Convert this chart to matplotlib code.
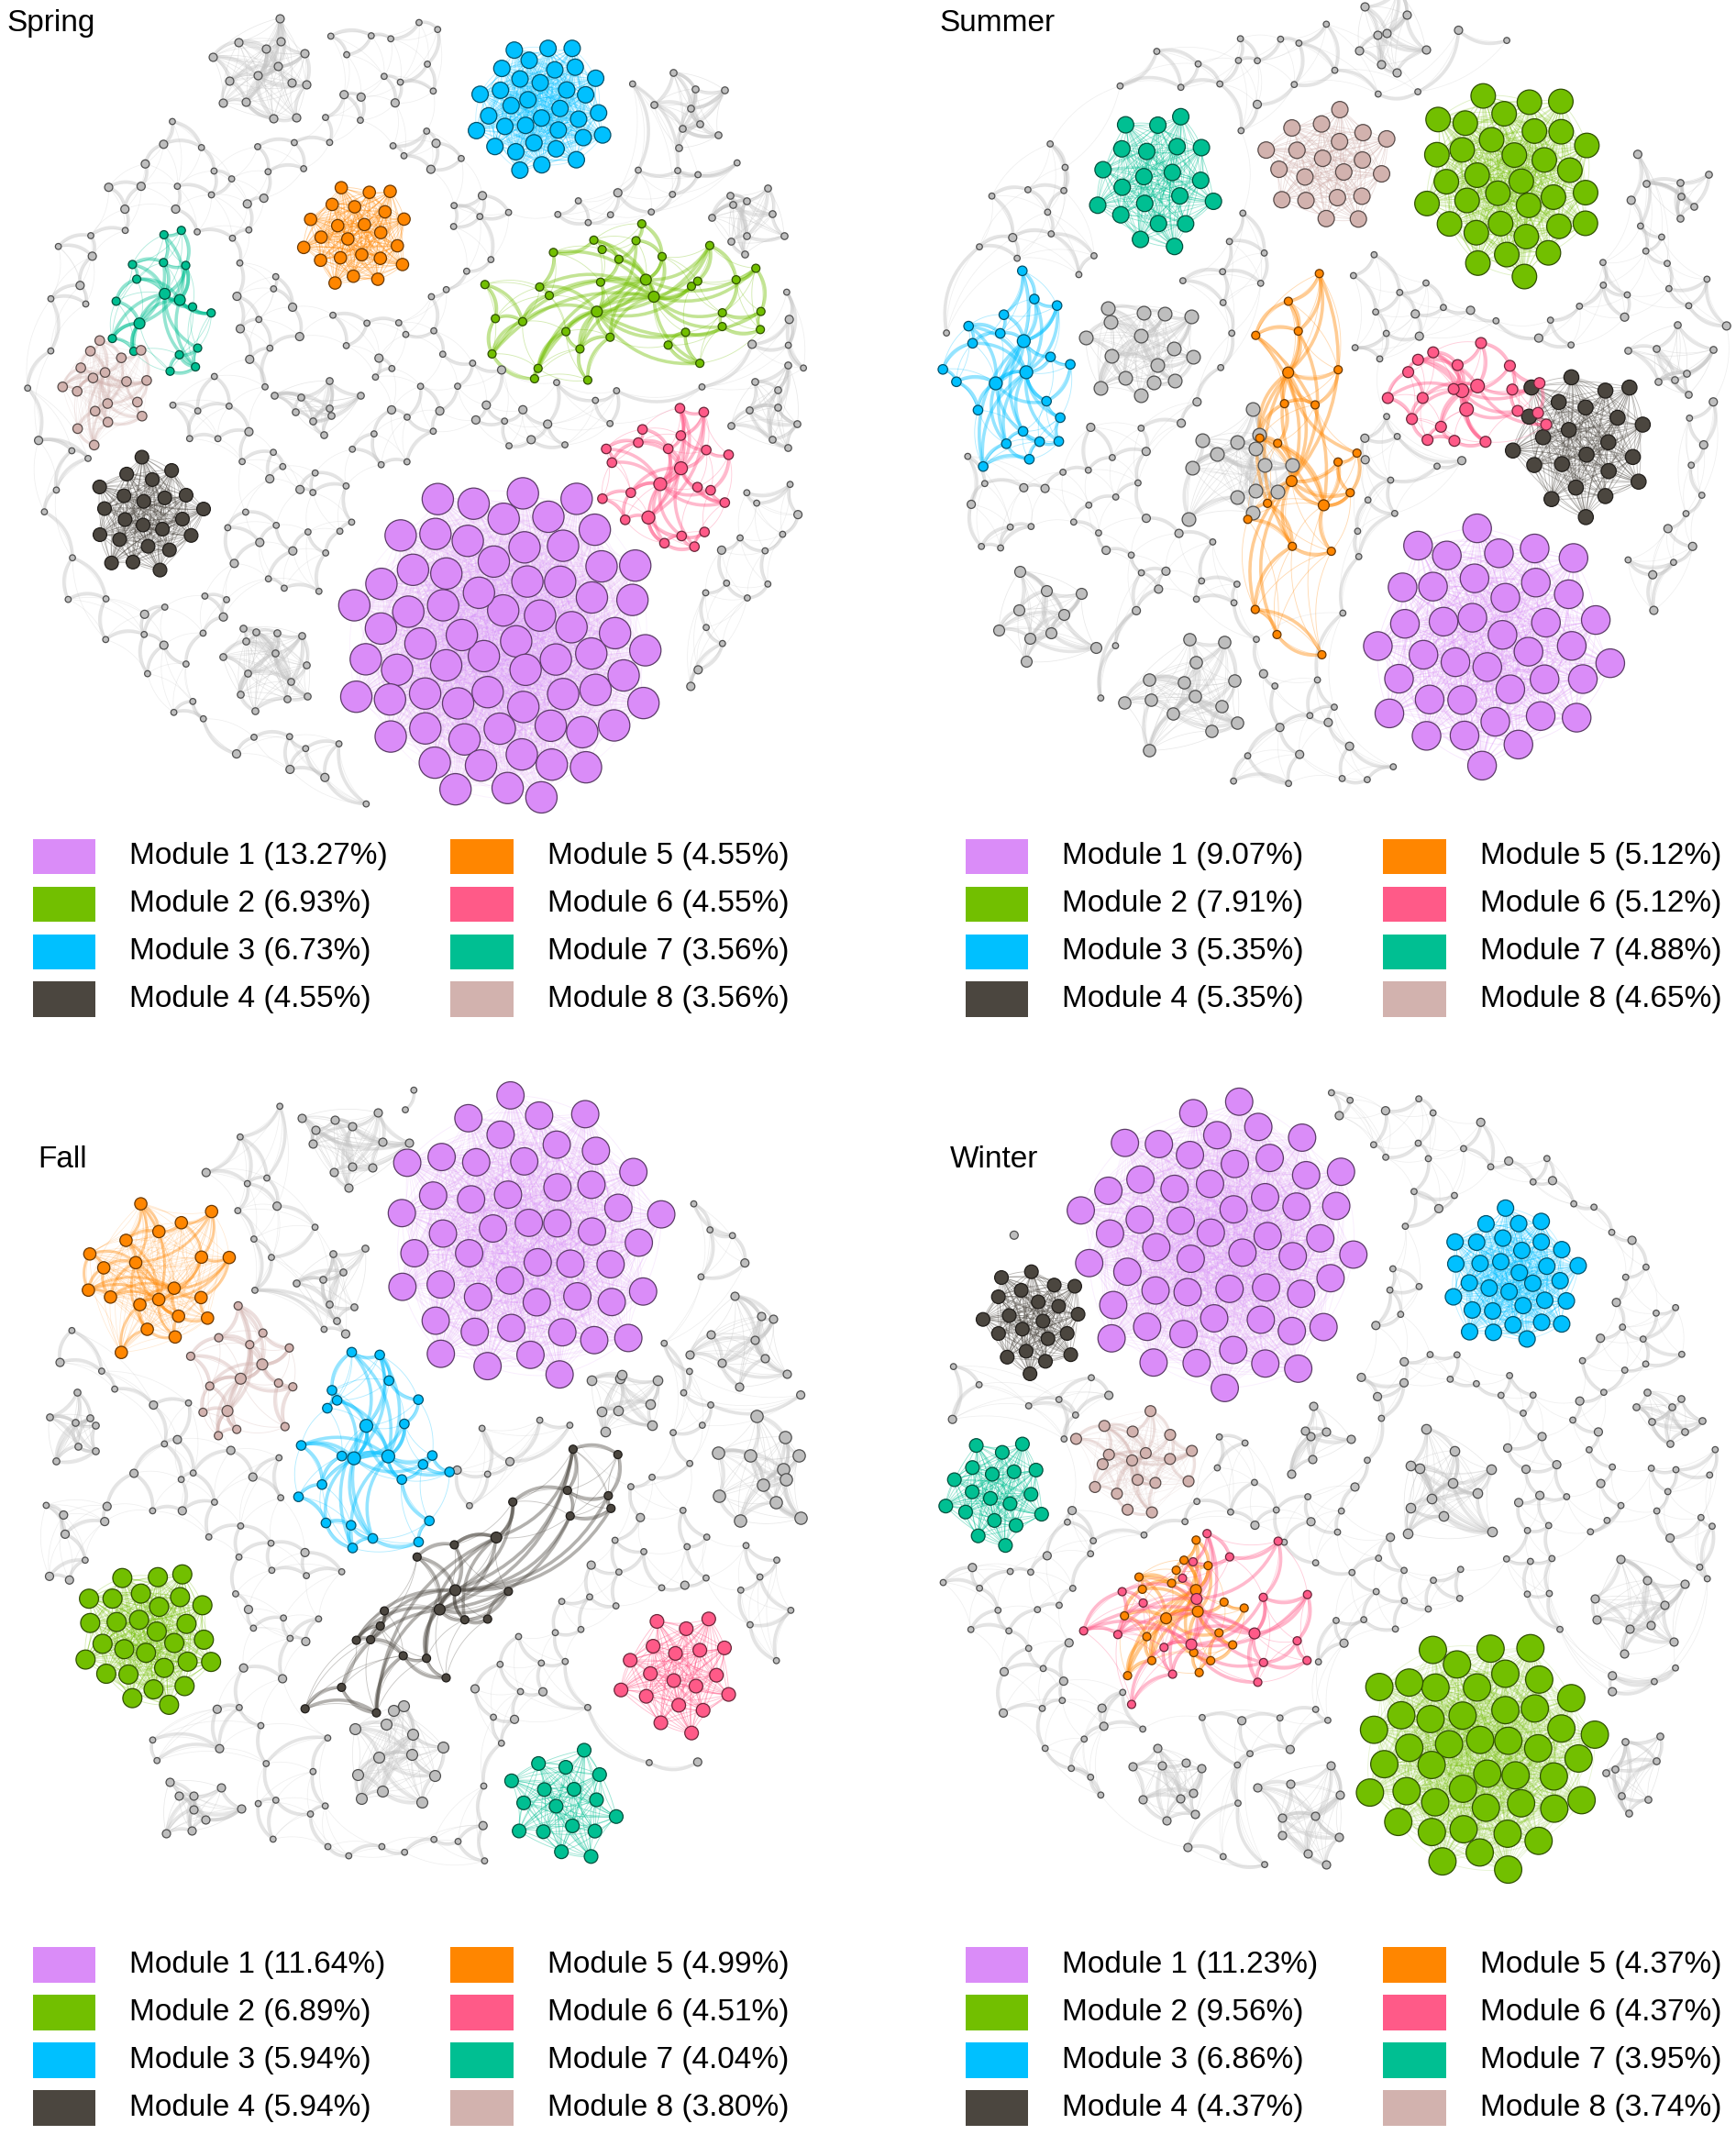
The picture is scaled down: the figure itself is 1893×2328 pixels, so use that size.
#seasonal co-occurrence networks, eight modules per season, rest of nodes grey
import numpy as np
import matplotlib
matplotlib.use("Agg")
import matplotlib.pyplot as plt
from matplotlib.collections import LineCollection
from matplotlib.patches import Rectangle
from matplotlib.colors import to_rgb

plt.rcParams['font.family'] = ['Liberation Sans', 'DejaVu Sans']

#data: node totals and module sizes (percent in legend = size / total)
seasons = ['Spring', 'Summer', 'Fall', 'Winter']
total_nodes = [505, 430, 421, 481]
module_labels = ['Module 1', 'Module 2', 'Module 3', 'Module 4',
                 'Module 5', 'Module 6', 'Module 7', 'Module 8']
spring_sizes = [67, 35, 34, 23, 23, 23, 18, 18]
summer_sizes = [39, 34, 23, 23, 22, 22, 21, 20]
fall_sizes = [49, 29, 25, 25, 21, 19, 17, 16]
winter_sizes = [54, 46, 33, 21, 21, 21, 19, 18]
module_sizes = [spring_sizes, summer_sizes, fall_sizes, winter_sizes]
module_colors = ['#DA8CF8', '#72BF00', '#00C0FF', '#4B463F',
                 '#FF8600', '#FF5A88', '#00BF92', '#D2B2AE']

#layout (canvas units, 1275 x 1568): cx, cy, rx, ry, angle, node radius, style
spring_layout = [(369, 471, 117, 120, 0, 11.5, 'dense'),
                 (457, 222, 118, 58, -8, 3, 'loose'),
                 (397, 80, 51, 51, 0, 6, 'dense'),
                 (108, 380, 44, 44, 0, 5, 'dense'),
                 (262, 174, 42, 42, 0, 4.5, 'dense'),
                 (492, 352, 52, 62, 0, 3.5, 'loose'),
                 (118, 225, 42, 62, 0, 3, 'loose'),
                 (78, 284, 36, 40, 0, 3.5, 'semi')]
summer_layout = [(1095, 472, 90, 94, 0, 10.5, 'dense'),
                 (1110, 133, 68, 72, 0, 9, 'dense'),
                 (748, 275, 50, 82, 0, 3.5, 'loose'),
                 (1163, 325, 56, 56, 0, 5.5, 'dense'),
                 (955, 335, 45, 150, 0, 3, 'loose'),
                 (1078, 290, 62, 42, 0, 4, 'loose'),
                 (848, 132, 49, 53, 0, 6, 'dense'),
                 (975, 123, 48, 48, 0, 6, 'dense')]
fall_layout = [(385, 910, 105, 109, 0, 10, 'dense'),
               (110, 1202, 53, 54, 0, 7, 'dense'),
               (272, 1070, 62, 82, 0, 3.5, 'loose'),
               (337, 1167, 165, 42, -39, 3, 'loose'),
               (115, 940, 58, 62, 0, 4.5, 'semi'),
               (498, 1228, 46, 46, 0, 5, 'dense'),
               (416, 1325, 44, 44, 0, 5, 'dense'),
               (180, 1010, 45, 50, 0, 3, 'loose')]
winter_layout = [(895, 915, 105, 112, 0, 10, 'dense'),
                 (1085, 1288, 88, 90, 0, 10, 'dense'),
                 (1110, 938, 52, 52, 0, 6, 'dense'),
                 (760, 970, 41, 41, 0, 5, 'dense'),
                 (870, 1185, 50, 55, 0, 3, 'loose'),
                 (885, 1190, 92, 70, 0, 3, 'loose'),
                 (731, 1095, 41, 41, 0, 5, 'dense'),
                 (833, 1075, 42, 40, 0, 4, 'semi')]
layouts = [spring_layout, summer_layout, fall_layout, winter_layout]

#small unlabeled grey modules: cx, cy, radius, n nodes, node radius
spring_grey = [(195, 55, 40, 15, 3), (198, 488, 40, 14, 2.5), (548, 160, 32, 10, 2.5),
               (232, 300, 30, 9, 2.5), (505, 80, 30, 9, 2.5), (565, 300, 30, 9, 2.5)]
summer_grey = [(840, 255, 45, 16, 5), (912, 345, 45, 14, 5), (872, 512, 48, 14, 4.5),
               (768, 452, 38, 10, 4), (1018, 25, 30, 9, 3), (1228, 268, 30, 8, 2.5),
               (1232, 140, 25, 6, 2.5)]
fall_grey = [(255, 842, 40, 12, 3), (560, 1080, 42, 12, 4.5), (548, 985, 38, 10, 3),
             (292, 1290, 42, 13, 4), (458, 1025, 32, 9, 3.5), (145, 1325, 30, 9, 3),
             (55, 1050, 30, 8, 2.5), (245, 940, 28, 8, 2.5)]
winter_grey = [(1058, 1090, 42, 12, 3.5), (1205, 1180, 40, 10, 3), (962, 1335, 38, 10, 3),
               (862, 1310, 35, 10, 3), (1222, 1040, 30, 8, 2.5), (968, 1060, 28, 7, 3),
               (1200, 1300, 30, 8, 2.5)]
grey_groups = [spring_grey, summer_grey, fall_grey, winter_grey]

#outer circle of each network, title spot, legend origin
net_circles = [(310, 302, 290), (982, 295, 288), (311, 1084, 290), (975, 1088, 292)]
title_pos = [(5, 17), (690, 17), (28, 852), (698, 852)]
legend_pos = [(24, 629), (709, 629), (24, 1443), (709, 1443)]

W, H = 1275.0, 1568.0
PT = 1893 / W * 0.72   # points per canvas unit
GREY_EDGE = '#C4C4C4'


def sunflower(n, rot=0.0):
    i = np.arange(n)
    r = np.sqrt((i + 0.5) / n)
    th = i * np.pi * (3 - np.sqrt(5)) + rot
    return r * np.cos(th), r * np.sin(th)


def r2seq(n, off):
    i = np.arange(n) + off
    return (0.5 + 0.7548776662466927 * i) % 1, (0.5 + 0.5698402909980532 * i) % 1


def place(cx, cy, rx, ry, ang, n, jit, off):
    u, v = sunflower(n, off * 0.7)
    ju, jv = r2seq(n, off * 31)
    sp = 1.0 / np.sqrt(n)
    u = u + (ju - 0.5) * jit * sp * 2
    v = v + (jv - 0.5) * jit * sp * 2
    a = np.deg2rad(ang)
    x, y = u * rx, v * ry
    return np.c_[cx + x * np.cos(a) - y * np.sin(a), cy + x * np.sin(a) + y * np.cos(a)]


def knn(p, k, maxd=1e9):
    d = np.hypot(p[:, None, 0] - p[None, :, 0], p[:, None, 1] - p[None, :, 1])
    np.fill_diagonal(d, np.inf)
    out = set()
    for i in range(len(p)):
        for j in np.argsort(d[i])[:k]:
            if d[i, j] < maxd:
                out.add((min(i, j), max(i, j)))
    return sorted(out)


def all_pairs(n):
    return [(i, j) for i in range(n) for j in range(i + 1, n)]


def hub_edges(n):
    out = []
    for h in range(min(3, n)):
        out += [(h, j) for j in range(h + 1, n, 2 + h)]
    return out


def curves(p, edges, bend=0.2, m=16):
    if not edges:
        return np.zeros((0, m, 2))
    e = np.array(edges)
    p0, p1 = p[e[:, 0]], p[e[:, 1]]
    d = p1 - p0
    c = (p0 + p1) / 2 + bend * np.c_[-d[:, 1], d[:, 0]]
    t = np.linspace(0, 1, m)[None, :, None]
    return (1 - t) ** 2 * p0[:, None] + 2 * (1 - t) * t * c[:, None] + t ** 2 * p1[:, None]


def add_edges(ax, segs, color, lw, alpha, z):
    if len(segs):
        ax.add_collection(LineCollection(segs, colors=[color], linewidths=lw * PT,
                                         alpha=alpha, zorder=z, capstyle='round'))


def add_nodes(ax, p, r, color, z):
    edge = tuple(np.array(to_rgb(color)) * 0.42)
    ax.scatter(p[:, 0], p[:, 1], s=(2 * np.asarray(r) * PT) ** 2, c=color,
               edgecolors=[edge], linewidths=0.9, zorder=z)


def inside(p, regions):
    hit = np.zeros(len(p), bool)
    for cx, cy, rx, ry, ang, mg in regions:
        a = np.deg2rad(ang)
        dx, dy = p[:, 0] - cx, p[:, 1] - cy
        u = dx * np.cos(a) + dy * np.sin(a)
        v = -dx * np.sin(a) + dy * np.cos(a)
        hit |= (u / (rx + mg)) ** 2 + (v / (ry + mg)) ** 2 < 1
    return hit


fig = plt.figure(figsize=(18.93, 23.28), dpi=100)
ax = fig.add_axes([0, 0, 1, 1])
ax.set_xlim(0, W)
ax.set_ylim(H, 0)
ax.axis('off')

for s, season in enumerate(seasons):
    sizes = module_sizes[s]
    regions = []

    #coloured modules
    for m, (cx, cy, rx, ry, ang, nr, style) in enumerate(layouts[s]):
        n = sizes[m]
        col = module_colors[m]
        radii = np.full(n, nr)
        if style == 'dense':
            p = place(cx, cy, rx, ry, ang, n, 0.1, s * 8 + m)
            add_edges(ax, curves(p, all_pairs(n), 0.12), col, 0.6, min(0.4, 8.0 / n), 2)
            regions.append((cx, cy, rx, ry, ang, nr + 10))
        elif style == 'semi':
            p = place(cx, cy, rx, ry, ang, n, 0.6, s * 8 + m)
            add_edges(ax, curves(p, all_pairs(n), 0.15), col, 0.5, 0.18, 2)
            add_edges(ax, curves(p, knn(p, 2) + hub_edges(n), 0.28), col, 2.0, 0.4, 2)
            regions.append((cx, cy, rx, ry, ang, nr + 6))
        else:
            p = place(cx, cy, rx, ry, ang, n, 0.8, s * 8 + m)
            add_edges(ax, curves(p, knn(p, 2) + hub_edges(n), 0.3), col, 2.4, 0.42, 2)
            add_edges(ax, curves(p, knn(p, 5), 0.2), col, 0.6, 0.3, 2)
            radii[:3] = nr * 1.35
            regions.append((cx, cy, rx, ry, ang, 0))
        add_nodes(ax, p, radii, col, 4)

    #grey unlabeled modules
    n_grey = total_nodes[s] - sum(sizes)
    for g, (cx, cy, R, n, nr) in enumerate(grey_groups[s]):
        p = place(cx, cy, R, R, 0, n, 0.7, 50 + s * 10 + g)
        add_edges(ax, curves(p, all_pairs(n), 0.15), '#BDBDBD', 0.5, 0.35, 1)
        add_edges(ax, curves(p, knn(p, 2) + hub_edges(n), 0.25), GREY_EDGE, 2.4, 0.42, 1)
        add_nodes(ax, p, nr, '#BEBEBE', 3)
        regions.append((cx, cy, R, R, 0, nr + 6))
        n_grey -= n

    #scattered grey nodes filling the rest of the circle
    ccx, ccy, CR = net_circles[s]
    for mtot in range(n_grey, n_grey * 8):
        u, v = sunflower(mtot, s * 1.3)
        ju, jv = r2seq(mtot, 7 + s)
        sp = 1.0 / np.sqrt(mtot)
        p = np.c_[ccx + CR * (u + (ju - 0.5) * 1.1 * sp), ccy + CR * (v + (jv - 0.5) * 1.1 * sp)]
        keep = ~inside(p, regions)
        if keep.sum() >= n_grey:
            p = p[keep][:n_grey]
            break
    add_edges(ax, curves(p, knn(p, 2, 75), 0.3), GREY_EDGE, 2.4, 0.45, 1)
    add_edges(ax, curves(p, knn(p, 5, 90), 0.2), '#BDBDBD', 0.5, 0.25, 1)
    radii = np.where(np.arange(n_grey) % 4 == 0, 3.0, 2.2)
    add_nodes(ax, p, radii, '#BEBEBE', 3)

    #title and legend
    tx, ty = title_pos[s]
    ax.text(tx, ty, season, fontsize=24, ha='left', va='center', zorder=6)
    lx, ly = legend_pos[s]
    for m in range(8):
        x0 = lx + 307 * (m // 4)
        y0 = ly + 35 * (m % 4)
        ax.add_patch(Rectangle((x0, y0 - 13), 46, 26, color=module_colors[m], lw=0, zorder=6))
        pct = 100.0 * sizes[m] / total_nodes[s]
        ax.text(x0 + 71, y0, '%s (%.2f%%)' % (module_labels[m], pct),
                fontsize=24, ha='left', va='center', zorder=6)

fig.savefig('out.png', dpi=100, facecolor='white')
